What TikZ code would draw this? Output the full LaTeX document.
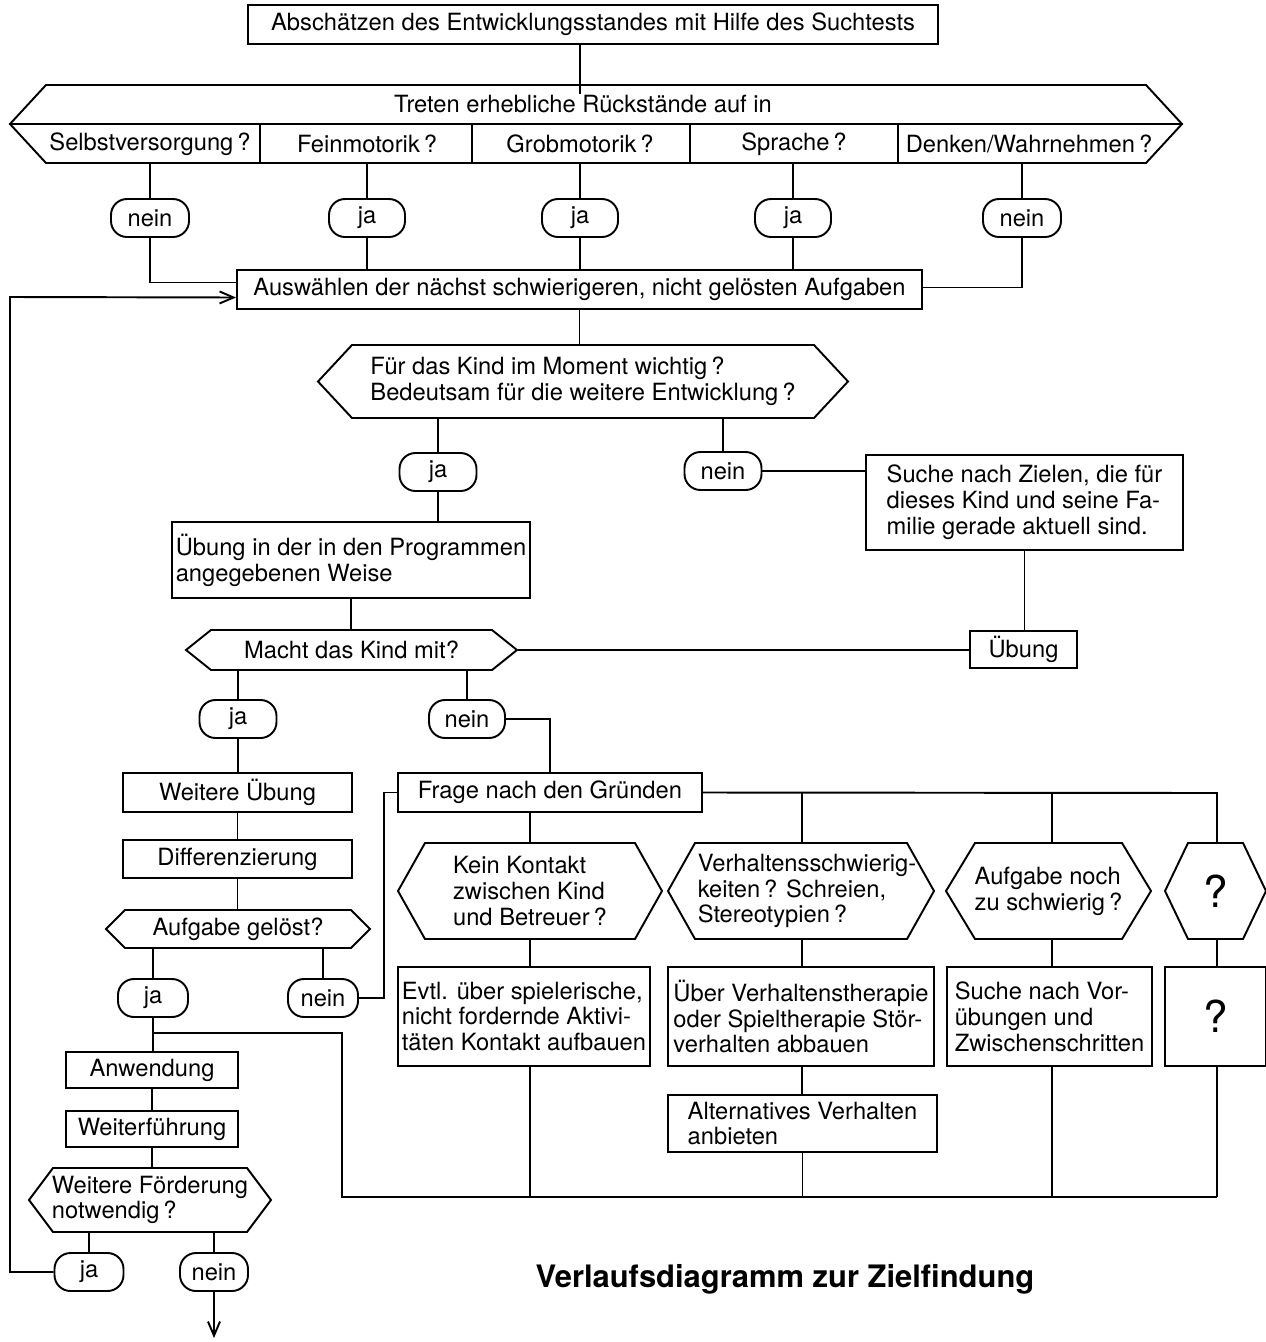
\documentclass[tikz,border=0pt]{standalone}
\usepackage{fontspec}
\setmainfont{TeX Gyre Heros}
\usetikzlibrary{arrows.meta}
\newcommand{\mf}{\fontsize{13.5}{14.7}\selectfont}
% box: [opts]{name}{x1}{y1}{x2}{y2}{text}
\newcommand{\bx}[7][]{\node[box,minimum width={(#5-#3)*0.02cm},minimum height={(#6-#4)*0.02cm},#1] (#2) at ({(#3+#5)/2},{(#4+#6)/2}) {#7};}
% pill: [opts]{name}{cx}{cy}{width}{text}
\newcommand{\pl}[6][]{\node[pill,minimum width={#5*0.02cm},#1] (#2) at (#3,#4) {#6};}
% hexagon: [opts]{name}{x1}{y1}{x2}{y2}{inset}{text}
\newcommand{\hx}[8][]{%
  \draw (#3,{(#4+#6)/2}) -- ({#3+#7},#4) -- ({#5-#7},#4) -- (#5,{(#4+#6)/2}) -- ({#5-#7},#6) -- ({#3+#7},#6) -- cycle;
  \node[txt,minimum width={(#5-#3)*0.02cm},minimum height={(#6-#4)*0.02cm},#1] (#2) at ({(#3+#5)/2},{(#4+#6)/2}) {#8};}
\begin{document}
\begin{tikzpicture}[x=0.02cm,y=-0.02cm,line width=1.1pt,
  box/.style={draw,rectangle,inner sep=0pt,font=\mf,align=left},
  pill/.style={draw,rectangle,rounded corners=0.32cm,inner sep=0pt,minimum height=0.76cm,font=\mf},
  txt/.style={inner sep=0pt,font=\mf,align=left},
  big/.style={font=\fontsize{25}{25}\selectfont},
  arr/.style={-{Straight Barb[length=0.28cm,width=0.24cm]}}]
\useasboundingbox (0,0) rectangle (1266,1342);

% top
\bx{top}{248}{5}{938}{44}{Abschätzen des Entwicklungsstandes mit Hilfe des Suchtests}
\hx{hexA}{10}{85}{1182}{163}{36}{}
\draw (hexA.west) -- (hexA.east);
\node[txt] (tr) at (583,104) {Treten erhebliche Rückstände auf in};
\draw (260,124) -- (260,163);
\draw (472,124) -- (472,163);
\draw (690,124) -- (690,163);
\draw (898,124) -- (898,163);
\node[txt,minimum height=0.78cm] (sel) at (150,144) {Selbstversorgung\,?};
\node[txt,minimum height=0.78cm] (fein) at (367,144) {Feinmotorik\,?};
\node[txt,minimum height=0.78cm] (grob) at (580,144) {Grobmotorik\,?};
\node[txt,minimum height=0.78cm] (spr) at (794,144) {Sprache\,?};
\node[txt,minimum height=0.78cm] (denk) at (1029,144) {Denken/Wahrnehmen\,?};
\draw (top.south -| grob) -- (tr.north -| grob |- hexA.north);

\pl{neinA}{150}{218}{78}{nein}
\pl{jaA}{367}{218}{76}{ja}
\pl{jaB}{580}{218}{76}{ja}
\pl{jaC}{793}{218}{76}{ja}
\pl{neinB}{1022}{218}{78}{nein}
\draw (sel.south -| neinA) -- (neinA.north);
\draw (fein.south -| jaA) -- (jaA.north);
\draw (grob.south -| jaB) -- (jaB.north);
\draw (spr.south -| jaC) -- (jaC.north);
\draw (denk.south -| neinB) -- (neinB.north);

\bx{aus}{237}{270}{922}{309}{Auswählen der nächst schwierigeren, nicht gelösten Aufgaben}
\draw (neinA.south) |- ([yshift=0.14cm]aus.west);
\draw (jaA.south) -- (jaA.south |- aus.north);
\draw (jaB.south) -- (jaB.south |- aus.north);
\draw (jaC.south) -- (jaC.south |- aus.north);
\draw (neinB.south) |- ([yshift=0.04cm]aus.east);

% second decision
\hx{hexB}{318}{345}{848}{418}{34}{Für das Kind im Moment wichtig\,?\\Bedeutsam für die weitere Entwicklung\,?}
\draw (aus.south) -- (aus.south |- hexB.north);
\pl{jaD}{438}{472}{77}{ja}
\pl{neinD}{723}{471}{77}{nein}
\draw (jaD.north |- hexB.south) -- (jaD.north);
\draw (neinD.north |- hexB.south) -- (neinD.north);
\bx{such}{866}{455}{1183}{550}{Suche nach Zielen, die für\\dieses Kind und seine Fa-\\milie gerade aktuell sind.}
\draw (neinD.east) -- (neinD.east -| such.west);
\bx{ueb}{970}{631}{1077}{668}{Übung}
\draw (such.south) -- (such.south |- ueb.north);

\bx{uebA}{172}{522}{530}{598}{Übung in der in den Programmen\\angegebenen Weise}
\draw (jaD.south) -- (jaD.south |- uebA.north);
\hx{hexC}{186}{630}{517}{670}{25}{Macht das Kind mit?}
\draw (uebA.south) -- (uebA.south |- hexC.north);
\draw (hexC.east) -- (hexC.east -| ueb.west);

\pl{jaE}{238}{719}{77}{ja}
\pl{neinE}{467}{719}{76}{nein}
\draw (jaE.north |- hexC.south) -- (jaE.north);
\draw (neinE.north |- hexC.south) -- (neinE.north);

% left column
\bx{wu}{123}{773}{352}{812}{Weitere Übung}
\bx{diff}{123}{840}{352}{878}{Differenzierung}
\draw (jaE.south) -- (jaE.south |- wu.north);
\draw (wu.south) -- (diff.north);
\hx{hexD}{106}{910}{370}{948}{19}{Aufgabe gelöst?}
\draw (diff.south) -- (diff.south |- hexD.north);
\pl{jaF}{153}{998}{70}{ja}
\pl{neinF}{323}{998}{70}{nein}
\draw (jaF.north |- hexD.south) -- (jaF.north);
\draw (neinF.north |- hexD.south) -- (neinF.north);

\bx{anw}{66}{1052}{238}{1088}{Anwendung}
\bx{wf}{66}{1111}{238}{1147}{Weiterführung}
\draw (jaF.south) -- (jaF.south |- anw.north);
\draw (anw.south) -- (wf.north);
\hx{hexE}{29}{1168}{271}{1232}{24}{Weitere Förderung\\notwendig\,?}
\draw (wf.south) -- (wf.south |- hexE.north);
\pl{jaG}{89}{1272}{69}{ja}
\pl{neinG}{214}{1272}{68}{nein}
\draw (jaG.north |- hexE.south) -- (jaG.north);
\draw (neinG.north |- hexE.south) -- (neinG.north);
\coordinate (endp) at (214,1338);
\draw[arr] (neinG.south) -- (endp);
\coordinate (lc) at (10,297);
\draw[arr] (jaG.west) -| (lc) -- ([yshift=-0.16cm]aus.west);

% reasons
\bx{frage}{398}{773}{702}{812}{Frage nach den Gründen}
\draw (neinE.east) -| (frage.north);
\draw (neinF.east) -| ([xshift=-0.26cm]frage.west) -- (frage.west);

\hx{hexK}{398}{843}{662}{939}{27}{Kein Kontakt\\zwischen Kind\\und Betreuer\,?}
\hx[xshift=0.12cm]{hexV}{668}{843}{934}{939}{27}{Verhaltensschwierig-\\keiten\,? Schreien,\\Stereotypien\,?}
\hx{hexN}{946}{843}{1151}{939}{29}{Aufgabe noch\\zu schwierig\,?}
\hx[big]{hexQ}{1165}{843}{1266}{939}{23}{?}

\bx{evtl}{398}{967}{650}{1066}{Evtl. über spielerische,\\nicht fordernde Aktivi-\\täten Kontakt aufbauen}
\bx{uv}{668}{967}{934}{1066}{Über Verhaltenstherapie\\oder Spieltherapie Stör-\\verhalten abbauen}
\bx{svor}{947}{967}{1152}{1066}{Suche nach Vor-\\übungen und\\Zwischenschritten}
\bx[big]{qb}{1165}{967}{1266}{1066}{?}
\bx{alt}{668}{1095}{937}{1152}{Alternatives Verhalten\\anbieten}

\coordinate (fr) at (1217,793);
\draw (frage.east) -- (fr) -- (fr |- hexQ.north);
\draw (hexK.north |- frage.south) -- (hexK.north);
\draw (802,793) -- (802,843);
\draw (1052,793) -- (1052,843);
\draw (hexK.south) -- (hexK.south |- evtl.north);
\draw (802,939) -- (802,967);
\draw (1052,939) -- (1052,967);
\draw (1217,939) -- (1217,967);
\draw (802,1066) -- (802,1095);

\coordinate (bp) at (153,1033);
\coordinate (cl) at (342,1197);
\coordinate (cr) at (1217,1197);
\draw (bp) -| (cl) -- (cr);
\draw (530,1066) -- (530,1197);
\draw (alt.south) -- (alt.south |- cl);
\draw (1052,1066) -- (1052,1197);
\draw (1217,1066) -- (cr);

\node[inner sep=0pt,font=\fontsize{17.6}{19}\selectfont\bfseries] (title) at (785,1279) {Verlaufsdiagramm zur Zielfindung};
\end{tikzpicture}
\end{document}
